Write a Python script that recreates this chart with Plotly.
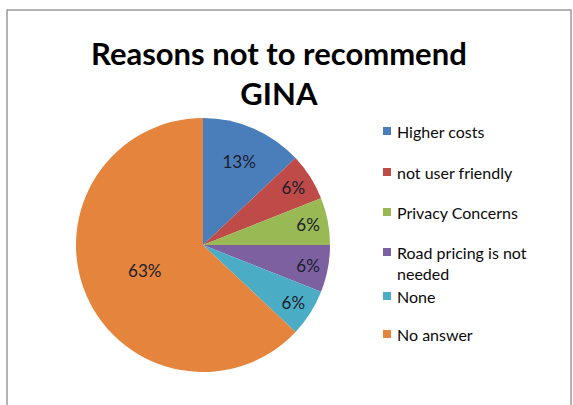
import textwrap
import plotly.graph_objects as go

# Survey answers: why respondents would not recommend GINA (percent of answers)
categories = ["Higher costs", "not user friendly", "Privacy Concerns",
              "Road pricing is not needed", "None", "No answer"]
shares = [13, 6, 6, 6, 6, 63]
colors = ["#4A7EBB", "#BE4B48", "#98B954", "#7D60A0", "#4BACC6", "#E5843C"]

W, H = 573, 405


def px(x):
    return x / W


def py(y):
    return 1 - y / H


fig = go.Figure(go.Pie(
    labels=categories,
    values=shares,
    sort=False,
    direction="clockwise",
    rotation=0,
    marker=dict(colors=colors, line=dict(width=0)),
    texttemplate="%{value}%",
    textposition="inside",
    insidetextorientation="horizontal",
    textfont=dict(family="Lato", size=17, color="#1c1c2c"),
    domain=dict(x=[px(76), px(330)], y=[py(372), py(118)]),
    showlegend=False,
    hoverinfo="label+percent",
))

# Chart frame
fig.add_shape(type="rect", xref="paper", yref="paper",
              x0=px(7), x1=px(571), y0=py(430), y1=py(10),
              line=dict(color="#9a9a9a", width=1.5), fillcolor="rgba(0,0,0,0)")

# Title
fig.add_annotation(xref="paper", yref="paper", x=px(279), y=py(32),
                   xanchor="center", yanchor="top", showarrow=False,
                   text="<b>Reasons not to recommend</b><br><b>GINA</b>",
                   font=dict(family="Lato", size=31, color="#000000"))

# Legend: colour square + wrapped label per category (first-line centres in px)
legend_rows = [131, 172, 212, 252, 296, 334]
legend_font = 16
for name, col, cy in zip(categories, colors, legend_rows):
    fig.add_shape(type="rect", xref="paper", yref="paper",
                  x0=px(383), x1=px(391), y0=py(cy + 4), y1=py(cy - 4),
                  line=dict(width=0), fillcolor=col)
    lines = textwrap.wrap(name, 20)
    fig.add_annotation(xref="paper", yref="paper", x=px(395),
                       y=py(cy - legend_font * 0.65 - 1),
                       xanchor="left", yanchor="top", align="left", showarrow=False,
                       text="<br>".join(lines),
                       font=dict(family="Lato", size=legend_font, color="#0a0a0a"))

fig.update_layout(width=W, height=H, margin=dict(l=0, r=0, t=0, b=0),
                  paper_bgcolor="white", plot_bgcolor="white")

fig.write_html("out.html")
